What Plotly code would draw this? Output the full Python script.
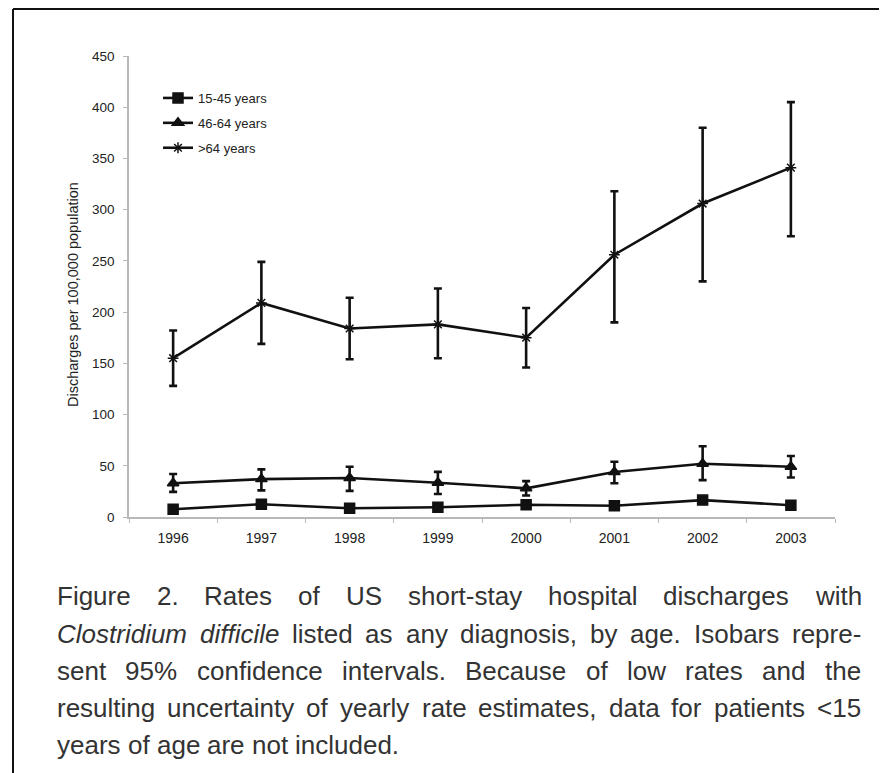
import plotly.graph_objects as go

# ---------------- data ----------------
years = ["1996", "1997", "1998", "1999", "2000", "2001", "2002", "2003"]

rate_15_45 = [7.5, 12.5, 8.5, 9.5, 12, 11, 16.5, 11.5]
upper_15_45 = [9.5, 15, 10.5, 11.5, 14.5, 13.5, 19.5, 14]
lower_15_45 = [5.5, 10, 6.5, 7.5, 9.5, 8.5, 13.5, 9]

rate_46_64 = [33, 37, 38, 33.5, 28, 44, 52, 49]
upper_46_64 = [42, 46.5, 49, 44, 35, 54, 69, 59.5]
lower_46_64 = [24.5, 26, 25.5, 22.5, 21, 33, 36, 38.5]

rate_gt64 = [155, 209, 184, 188, 175, 256, 306, 341]
upper_gt64 = [182, 249, 214, 223, 204, 318, 380, 405]
lower_gt64 = [128, 169, 154, 155, 146, 190, 230, 274]

series_names = ["15-45 years", "46-64 years", ">64 years"]

y_title = "Discharges per 100,000 population"

caption_lines = [
    "Figure 2. Rates of US short-stay hospital discharges with",
    "<i>Clostridium</i> <i>difficile</i> listed as any diagnosis, by age. Isobars repre-",
    "sent 95% confidence intervals. Because of low rates and the",
    "resulting uncertainty of yearly rate estimates, data for patients <15",
    "years of age are not included.",
]

# ---------------- layout geometry (pixels, page coordinates) ----------------
OFF = 8                      # default body margin of the html page
W, H = 887 - OFF, 773 - OFF
PL, PR, PT, PB = 129, 835, 56, 517   # plot area edges in page pixels


def px_x(px):
    return (px - PL) / (PR - PL)


def px_y(py):
    return (PB - py) / (PB - PT)


fig = go.Figure()

for name, rate, up, lo, sym, msize in [
    (series_names[0], rate_15_45, upper_15_45, lower_15_45, "square", 10),
    (series_names[1], rate_46_64, upper_46_64, lower_46_64, "triangle-up", 10),
    (series_names[2], rate_gt64, upper_gt64, lower_gt64, "asterisk-open", 9),
]:
    fig.add_trace(go.Scatter(
        x=years, y=rate, name=name, mode="lines+markers",
        line=dict(color="#111111", width=2.6),
        marker=dict(symbol=sym, size=msize, color="#111111",
                    line=dict(color="#111111", width=1.5)),
        error_y=dict(type="data", symmetric=False,
                     array=[u - r for u, r in zip(up, rate)],
                     arrayminus=[r - l for r, l in zip(rate, lo)],
                     color="#111111", thickness=2.6, width=4),
        legendgroup=name,
    ))

# ---------------- caption (justified, word by word) ----------------
ARIAL = {
    ' ': 278, '!': 278, '"': 355, '#': 556, '$': 556, '%': 889, '&': 667, "'": 191,
    '(': 333, ')': 333, '*': 389, '+': 584, ',': 278, '-': 333, '.': 278, '/': 278,
    '0': 556, '1': 556, '2': 556, '3': 556, '4': 556, '5': 556, '6': 556, '7': 556,
    '8': 556, '9': 556, ':': 278, ';': 278, '<': 584, '=': 584, '>': 584, '?': 556,
    'A': 667, 'B': 667, 'C': 722, 'D': 722, 'E': 667, 'F': 611, 'G': 778, 'H': 722,
    'I': 278, 'J': 500, 'K': 667, 'L': 556, 'M': 833, 'N': 722, 'O': 778, 'P': 667,
    'Q': 778, 'R': 722, 'S': 667, 'T': 611, 'U': 722, 'V': 667, 'W': 944, 'X': 667,
    'Y': 667, 'Z': 611, 'a': 556, 'b': 556, 'c': 500, 'd': 556, 'e': 556, 'f': 278,
    'g': 556, 'h': 556, 'i': 222, 'j': 222, 'k': 500, 'l': 222, 'm': 833, 'n': 556,
    'o': 556, 'p': 556, 'q': 556, 'r': 333, 's': 500, 't': 278, 'u': 556, 'v': 500,
    'w': 722, 'x': 500, 'y': 500, 'z': 500,
}


def strip_tags(s):
    return s.replace("<i>", "").replace("</i>", "")


def text_w(s, fs):
    return sum(ARIAL.get(c, 556) for c in strip_tags(s)) * fs / 1000.0


CAP_FS = 26
CAP_LEFT, CAP_RIGHT = 56, 860
CAP_CENTERS = [596, 634, 671, 708, 745]

annotations = []
for i, line in enumerate(caption_lines):
    words = line.split(" ")
    yc = CAP_CENTERS[i]
    widths = [text_w(w, CAP_FS) for w in words]
    if i < len(caption_lines) - 1:
        gap = (CAP_RIGHT - CAP_LEFT - sum(widths)) / (len(words) - 1)
    else:
        gap = ARIAL[' '] * CAP_FS / 1000.0
    x = CAP_LEFT
    for w, wd in zip(words, widths):
        annotations.append(dict(
            text=w, x=px_x(x), y=px_y(yc), xref="paper", yref="paper",
            xanchor="left", yanchor="middle", showarrow=False, borderpad=0,
            font=dict(family="Liberation Sans, Arial, sans-serif", size=CAP_FS,
                      color="#333333"),
        ))
        x += wd + gap

# y-axis title
annotations.append(dict(
    text=y_title, x=px_x(73), y=px_y(295), xref="paper", yref="paper",
    xanchor="center", yanchor="middle", showarrow=False, textangle=-90,
    font=dict(family="Liberation Sans, Arial, sans-serif", size=14.5, color="#222222"),
))

# frame lines (top and left)
shapes = [
    dict(type="line", xref="paper", yref="paper",
         x0=px_x(13), x1=px_x(900), y0=px_y(9), y1=px_y(9),
         line=dict(color="#111111", width=2)),
    dict(type="line", xref="paper", yref="paper",
         x0=px_x(13), x1=px_x(13), y0=px_y(9), y1=px_y(790),
         line=dict(color="#111111", width=2)),
]

fig.update_layout(
    width=W, height=H,
    margin=dict(l=PL - OFF, r=(W + OFF) - PR, t=PT - OFF, b=(H + OFF) - PB),
    paper_bgcolor="white", plot_bgcolor="white",
    showlegend=True,
    legend=dict(x=px_x(158), y=px_y(83), xanchor="left", yanchor="top",
                bgcolor="rgba(0,0,0,0)", tracegroupgap=5,
                font=dict(family="Liberation Sans, Arial, sans-serif", size=13,
                          color="#222222")),
    annotations=annotations,
    shapes=shapes,
    font=dict(family="Liberation Sans, Arial, sans-serif", color="#222222"),
)

fig.update_xaxes(
    type="category", range=[-0.5, 7.5],
    showline=True, linecolor="#b8b8b8", linewidth=1.5,
    ticks="outside", ticklen=4, tickcolor="#b8b8b8", tickson="boundaries",
    showgrid=False, zeroline=False,
    tickfont=dict(size=14, color="#222222"), ticklabelstandoff=7,
)
fig.update_yaxes(
    range=[0, 450], dtick=50, tick0=0,
    showline=True, linecolor="#b8b8b8", linewidth=1.5,
    ticks="outside", ticklen=4, tickcolor="#b8b8b8",
    showgrid=False, zeroline=False,
    tickfont=dict(size=13.5, color="#222222"), ticklabelstandoff=6,
)

fig.write_html("out.html")
